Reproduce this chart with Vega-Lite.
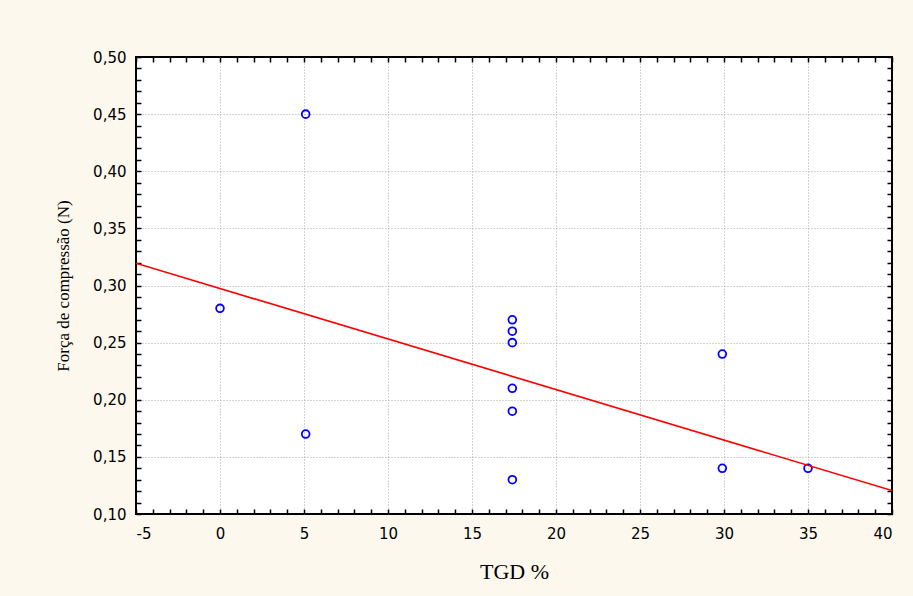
{
  "$schema": "https://vega.github.io/schema/vega-lite/v6.json",
  "width": 756,
  "height": 457,
  "autosize": "none",
  "padding": {"left": 136, "top": 57, "right": 21, "bottom": 82},
  "background": "#fdf8ee",
  "config": {
    "view": {"fill": "white", "stroke": "black", "strokeWidth": 2},
    "axis": {
      "domain": false,
      "tickColor": "black",
      "tickWidth": 1.5,
      "labelFont": "DejaVu Sans",
      "labelFontSize": 15,
      "labelColor": "black",
      "titleFont": "Liberation Serif",
      "titleFontWeight": "normal",
      "titleColor": "black",
      "gridColor": "#a8a8a8",
      "gridDash": [1, 2],
      "gridWidth": 1
    }
  },
  "datasets": {
    "pts": [
      {"tgd": 0, "forca": 0.28},
      {"tgd": 5.1, "forca": 0.45},
      {"tgd": 5.1, "forca": 0.17},
      {"tgd": 17.4, "forca": 0.27},
      {"tgd": 17.4, "forca": 0.26},
      {"tgd": 17.4, "forca": 0.25},
      {"tgd": 17.4, "forca": 0.21},
      {"tgd": 17.4, "forca": 0.19},
      {"tgd": 17.4, "forca": 0.13},
      {"tgd": 29.9, "forca": 0.24},
      {"tgd": 29.9, "forca": 0.14},
      {"tgd": 35, "forca": 0.14}
    ],
    "fit": [
      {"tgd": -5, "forca": 0.3195},
      {"tgd": 40, "forca": 0.1205}
    ]
  },
  "layer": [
    {
      "data": {"name": "pts"},
      "mark": {"type": "point", "shape": "circle", "filled": false, "color": "#0000ff", "size": 60, "strokeWidth": 1.8, "opacity": 1},
      "encoding": {
        "x": {
          "field": "tgd", "type": "quantitative",
          "scale": {"domain": [-5, 40], "nice": false, "zero": false},
          "axis": {
            "orient": "bottom",
            "title": "TGD %",
            "titleFontSize": 22,
            "titlePadding": 20,
            "values": [-5,-4,-3,-2,-1,0,1,2,3,4,5,6,7,8,9,10,11,12,13,14,15,16,17,18,19,20,21,22,23,24,25,26,27,28,29,30,31,32,33,34,35,36,37,38,39,40],
            "tickSize": -5,
            "labelPadding": 17,
            "labelExpr": "datum.value % 5 === 0 ? (datum.value < 0 ? '-' + abs(datum.value) : '' + datum.value) : ''",
            "gridOpacity": {"condition": {"test": "datum.value % 5 === 0 && datum.value > -5 && datum.value < 40", "value": 1}, "value": 0}
          }
        },
        "y": {
          "field": "forca", "type": "quantitative",
          "scale": {"domain": [0.1, 0.5], "nice": false, "zero": false},
          "axis": {
            "orient": "left",
            "title": "Força de compressão (N)",
            "titleFontSize": 17,
            "titlePadding": 20,
            "values": [0.10,0.11,0.12,0.13,0.14,0.15,0.16,0.17,0.18,0.19,0.20,0.21,0.22,0.23,0.24,0.25,0.26,0.27,0.28,0.29,0.30,0.31,0.32,0.33,0.34,0.35,0.36,0.37,0.38,0.39,0.40,0.41,0.42,0.43,0.44,0.45,0.46,0.47,0.48,0.49,0.50],
            "tickSize": -5,
            "labelPadding": 15,
            "labelExpr": "round(datum.value * 100) % 5 === 0 ? replace(format(datum.value, '.2f'), '.', ',') : ''",
            "gridOpacity": {"condition": {"test": "round(datum.value * 100) % 5 === 0 && round(datum.value*100) > 10 && round(datum.value*100) < 50", "value": 1}, "value": 0}
          }
        }
      }
    },
    {
      "data": {"name": "fit"},
      "mark": {"type": "line", "color": "#ff0000", "strokeWidth": 1.6, "clip": true},
      "encoding": {
        "x": {
          "field": "tgd", "type": "quantitative",
          "axis": {
            "orient": "top",
            "title": null,
            "labels": false,
            "grid": false,
            "values": [-5,-4,-3,-2,-1,0,1,2,3,4,5,6,7,8,9,10,11,12,13,14,15,16,17,18,19,20,21,22,23,24,25,26,27,28,29,30,31,32,33,34,35,36,37,38,39,40],
            "tickSize": -5
          }
        },
        "y": {
          "field": "forca", "type": "quantitative",
          "axis": {
            "orient": "right",
            "title": null,
            "labels": false,
            "grid": false,
            "values": [0.10,0.11,0.12,0.13,0.14,0.15,0.16,0.17,0.18,0.19,0.20,0.21,0.22,0.23,0.24,0.25,0.26,0.27,0.28,0.29,0.30,0.31,0.32,0.33,0.34,0.35,0.36,0.37,0.38,0.39,0.40,0.41,0.42,0.43,0.44,0.45,0.46,0.47,0.48,0.49,0.50],
            "tickSize": -5
          }
        }
      }
    }
  ],
  "resolve": {"axis": {"x": "independent", "y": "independent"}}
}
